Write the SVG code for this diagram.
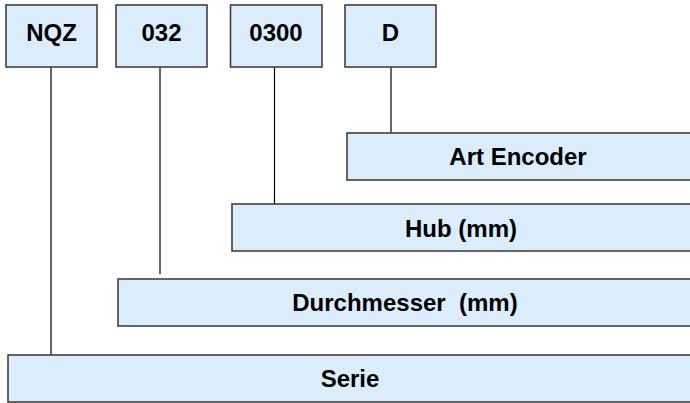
<svg xmlns="http://www.w3.org/2000/svg" width="690" height="403" viewBox="0 0 690 403">
<style>
.box{fill:#dbedfb;stroke:#404040;stroke-width:1.6}
.lbl{font-family:"Liberation Sans",Arial,Helvetica,sans-serif;font-weight:bold;font-size:24px;fill:#000;text-anchor:middle}
.con{stroke:#000;stroke-width:1.2;fill:none}
</style>
<rect width="690" height="403" fill="#fff"/>
<g id="connectors">
<line class="con" x1="51" y1="67" x2="51" y2="355"/>
<line class="con" x1="160" y1="67" x2="160" y2="274"/>
<line class="con" x1="274.5" y1="67" x2="274.5" y2="204"/>
<line class="con" x1="391" y1="67" x2="391" y2="133"/>
</g>
<g id="nqz"><rect class="box" x="6" y="5" width="91" height="62"/><text class="lbl" x="51.5" y="41">NQZ</text></g>
<g id="n032"><rect class="box" x="116" y="5" width="91" height="62"/><text class="lbl" x="161.5" y="41">032</text></g>
<g id="n0300"><rect class="box" x="230.5" y="5" width="91.5" height="62"/><text class="lbl" x="276" y="41">0300</text></g>
<g id="d"><rect class="box" x="345" y="5" width="91" height="62"/><text class="lbl" x="390.5" y="41">D</text></g>
<g id="art-encoder"><rect class="box" x="347" y="133" width="346" height="47"/><text class="lbl" x="518" y="165">Art Encoder</text></g>
<g id="hub"><rect class="box" x="232" y="204" width="461" height="47"/><text class="lbl" x="461" y="236.5">Hub (mm)</text></g>
<g id="durchmesser"><rect class="box" x="118" y="279" width="575" height="47"/><text class="lbl" x="405" y="311" xml:space="preserve">Durchmesser  (mm)</text></g>
<g id="serie"><rect class="box" x="8" y="355" width="685" height="47"/><text class="lbl" x="350" y="387">Serie</text></g>
</svg>
